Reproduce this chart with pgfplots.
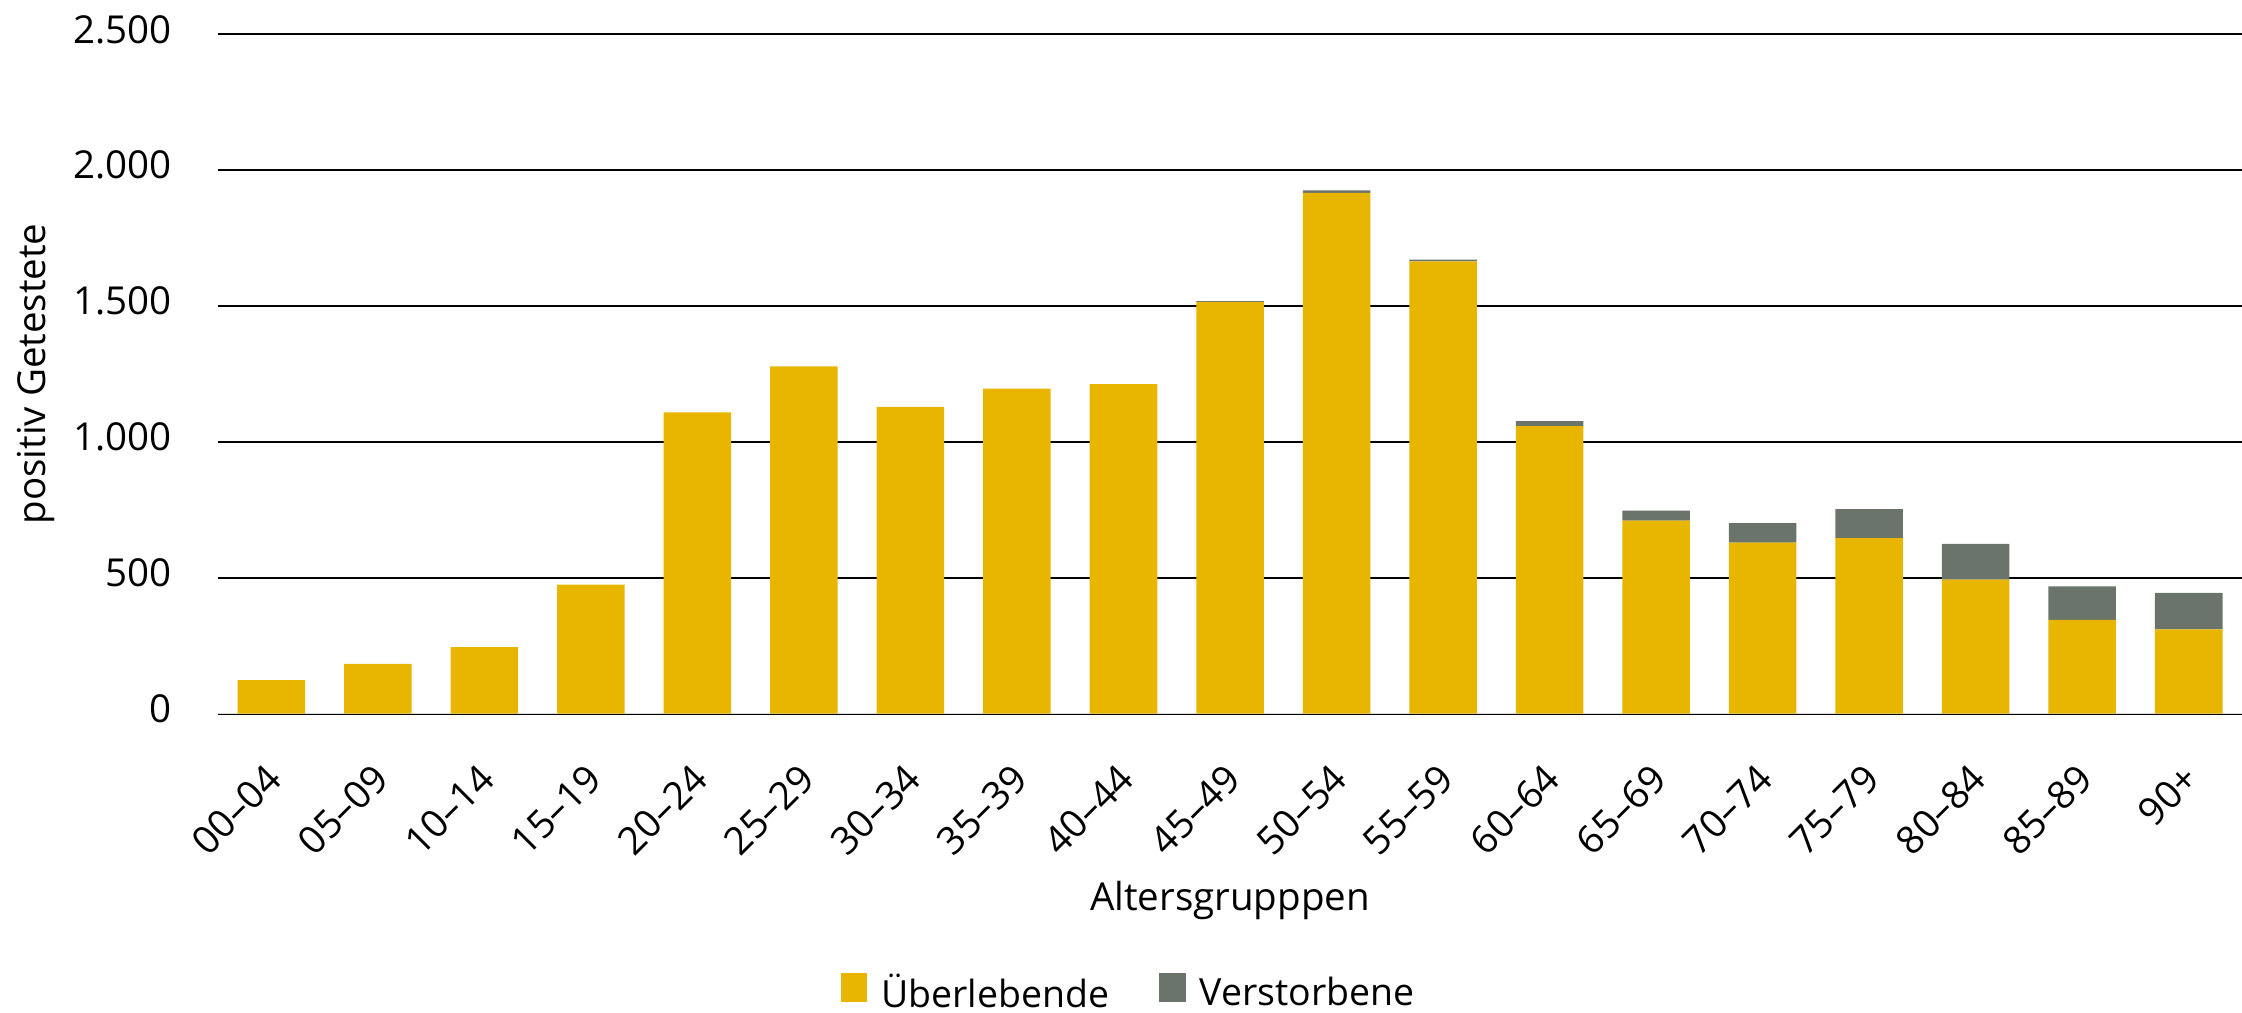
\documentclass[border=0pt]{standalone}
\usepackage{fontspec}
\setmainfont{Open Sans}
\usepackage{pgfplots}
\pgfplotsset{compat=1.18}
\definecolor{surv}{HTML}{E8B600}
\definecolor{dec}{HTML}{6A746A}
\begin{document}
\fontsize{11pt}{13pt}\selectfont
\begin{tikzpicture}
\path[use as bounding box] (-62.3pt,-85.5pt) rectangle (578.3pt,203.9pt);
\begin{axis}[
  scale only axis, width=578.3pt, height=194.1pt,
  ybar stacked, bar width=0.634,
  xmin=-0.5, xmax=18.5, ymin=0, ymax=2500,
  xtick={0,...,18},
  xticklabels={00–04,05–09,10–14,15–19,20–24,25–29,30–34,35–39,40–44,45–49,50–54,55–59,60–64,65–69,70–74,75–79,80–84,85–89,90+},
  ytick={0,500,...,2500},
  ymajorgrids, grid style={black, line width=0.6pt},
  axis line style={draw=none},
  tick style={draw=none},
  /pgf/number format/1000 sep={.},
  /pgf/number format/assume math mode=true,
  yticklabel style={anchor=east, inner sep=0pt, xshift=-13pt, yshift=1.4pt},
  xticklabel style={inner sep=0pt, xshift=-2pt, yshift=-13.5pt, rotate=45, anchor=north east},
  xlabel={Altersgrupppen},
  xlabel style={at={([yshift=-56.3pt]axis description cs:0.5,0)}, anchor=base},
  ylabel={positiv Getestete},
  ylabel style={at={([xshift=-49.4pt]axis description cs:0,0.5)}, anchor=base},
  legend style={at={([yshift=-80.1pt]axis description cs:0.4529,0)}, anchor=center, draw=none, fill=none,
    legend columns=2, /tikz/every even column/.append style={column sep=10.3pt},
    nodes={inner xsep=4pt}, font=\fontsize{10.7pt}{12pt}\selectfont},
  legend cell align=left,
]
\addplot[fill=surv, draw=none, legend image code/.code={\fill[surv] (0pt,-2.2pt) rectangle (7.6pt,6pt);}] coordinates {
(0,123) (1,183) (2,245) (3,475) (4,1109) (5,1278) (6,1129) (7,1196) (8,1213) (9,1515)
(10,1916) (11,1664) (12,1058) (13,710) (14,629) (15,646) (16,493) (17,345) (18,310)};
\addlegendentry{Überlebende}
\addplot[fill=dec, draw=none, legend image code/.code={\fill[dec] (0pt,-2.2pt) rectangle (7.6pt,6pt);}] coordinates {
(0,0) (1,0) (2,0) (3,0) (4,0) (5,0) (6,0) (7,0) (8,0) (9,3)
(10,10) (11,7) (12,18) (13,37) (14,72) (15,107) (16,132) (17,123) (18,134)};
\addlegendentry{Verstorbene}
\draw[black!15, line width=0.6pt] (rel axis cs:0,0) -- (rel axis cs:1,0);
\end{axis}
\end{tikzpicture}
\end{document}
